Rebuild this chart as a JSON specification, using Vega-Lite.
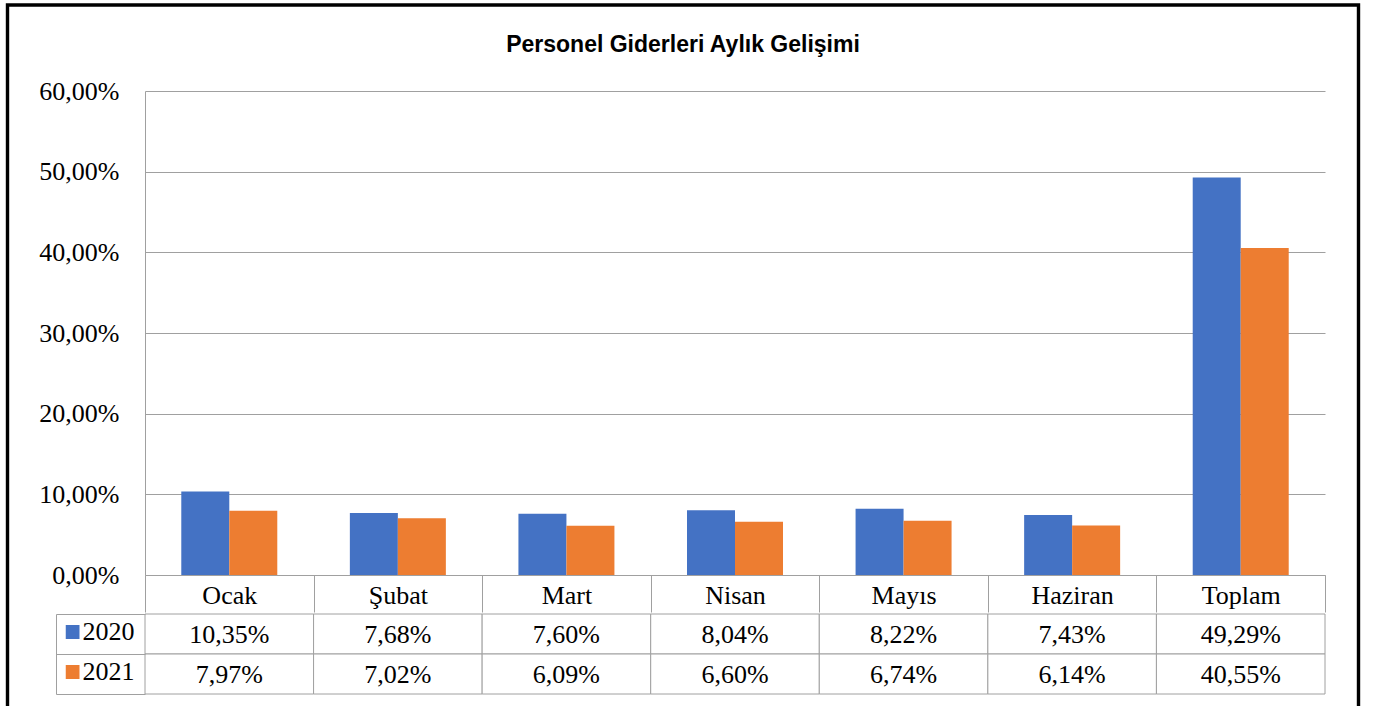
{
  "$schema": "https://vega.github.io/schema/vega-lite/v6.json",
  "background": "white",
  "padding": {"left": 5, "top": 3, "right": 5, "bottom": 5},
  "title": {"text": "Personel Giderleri Aylık Gelişimi", "font": "Liberation Sans", "fontSize": 23, "fontWeight": "bold", "color": "black", "offset": -54, "anchor": "middle"},
  "data": {"values": [
    {"ay": "Ocak", "yil": "2020", "oran": 0.1035},
    {"ay": "Şubat", "yil": "2020", "oran": 0.0768},
    {"ay": "Mart", "yil": "2020", "oran": 0.0760},
    {"ay": "Nisan", "yil": "2020", "oran": 0.0804},
    {"ay": "Mayıs", "yil": "2020", "oran": 0.0822},
    {"ay": "Haziran", "yil": "2020", "oran": 0.0743},
    {"ay": "Toplam", "yil": "2020", "oran": 0.4929},
    {"ay": "Ocak", "yil": "2021", "oran": 0.0797},
    {"ay": "Şubat", "yil": "2021", "oran": 0.0702},
    {"ay": "Mart", "yil": "2021", "oran": 0.0609},
    {"ay": "Nisan", "yil": "2021", "oran": 0.0660},
    {"ay": "Mayıs", "yil": "2021", "oran": 0.0674},
    {"ay": "Haziran", "yil": "2021", "oran": 0.0614},
    {"ay": "Toplam", "yil": "2021", "oran": 0.4055}
  ]},
  "spacing": 0,
  "vconcat": [
    {
      "width": 1180,
      "height": 484,
      "mark": {"type": "bar"},
      "encoding": {
        "x": {"field": "ay", "type": "nominal", "sort": ["Ocak", "Şubat", "Mart", "Nisan", "Mayıs", "Haziran", "Toplam"],
              "scale": {"paddingInner": 0, "paddingOuter": 0},
              "axis": {"title": null, "labelAngle": 0, "orient": "bottom", "domain": true, "domainColor": "#a0a0a0", "ticks": true, "tickBand": "extent", "tickSize": 37, "tickColor": "#a0a0a0", "grid": false,
                       "labelFont": "Liberation Serif", "labelFontSize": 26, "labelColor": "black", "labelPadding": -30}},
        "xOffset": {"field": "yil", "type": "nominal", "scale": {"paddingInner": 0, "paddingOuter": 0.756}},
        "y": {"field": "oran", "type": "quantitative", "scale": {"domain": [0, 0.6]},
              "axis": {"title": null, "values": [0, 0.1, 0.2, 0.3, 0.4, 0.5, 0.6], "format": ".2%", "ticks": false, "domain": true, "domainColor": "#a0a0a0", "grid": true, "gridColor": "#a0a0a0",
                       "labelFont": "Liberation Serif", "labelFontSize": 26, "labelColor": "black", "labelPadding": 26}},
        "color": {"field": "yil", "type": "nominal", "scale": {"domain": ["2020", "2021"], "range": ["#4472C4", "#ED7D31"]},
                  "legend": {"orient": "none", "legendX": -88.5, "legendY": 521, "title": null, "direction": "vertical", "symbolType": "square", "symbolSize": 196, "symbolStrokeWidth": 0, "symbolOffset": -6,
                             "labelFont": "Liberation Serif", "labelFontSize": 26, "labelColor": "black", "labelOffset": -3, "padding": 9, "rowPadding": 14, "clipHeight": 22}}
      }
    },
    {
      "width": 1180,
      "height": 80,
      "encoding": {
        "x": {"field": "ay", "type": "nominal", "sort": ["Ocak", "Şubat", "Mart", "Nisan", "Mayıs", "Haziran", "Toplam"], "scale": {"paddingInner": 0, "paddingOuter": 0}, "axis": null}
      },
      "layer": [
        {"mark": {"type": "rect", "fill": "white", "strokeWidth": 1},
         "encoding": {
           "y": {"field": "yil", "type": "nominal", "sort": ["2020", "2021"], "scale": {"paddingInner": 0, "paddingOuter": 0},
                 "axis": {"title": null, "orient": "left", "labels": false, "domain": false, "ticks": true, "tickBand": "extent", "tickSize": 89, "tickColor": "#a0a0a0", "grid": false}},
           "stroke": {"field": "oran", "type": "quantitative", "scale": {"range": ["#a0a0a0", "#a0a0a0"]},
                                 "legend": {"orient": "none", "legendX": -137.5, "legendY": -86, "title": null, "direction": "horizontal",
                                            "gradientLength": 1342.5, "gradientThickness": 695.5, "gradientOpacity": 0, "gradientStrokeColor": "#a0a0a0", "gradientStrokeWidth": 1,
                                            "labelOpacity": 0, "labelOffset": 0, "labelFontSize": 1, "padding": 4, "strokeColor": "black",
                                            "encode": {"legend": {"update": {"strokeWidth": {"value": 3.4}}}}}}}},
        {"mark": {"type": "text", "font": "Liberation Serif", "fontSize": 26, "color": "black", "baseline": "middle", "dy": 1},
         "encoding": {
           "y": {"field": "yil", "type": "nominal", "sort": ["2020", "2021"],
                 "axis": {"title": null, "orient": "left", "offset": 89, "labels": false, "ticks": false, "domain": true, "domainColor": "#a0a0a0", "grid": false}},
           "text": {"field": "oran", "type": "quantitative", "format": ".2%"}}}
      ],
      "resolve": {"axis": {"y": "independent"}}
    }
  ],
  "config": {
    "view": {"stroke": null},
    "locale": {"number": {"decimal": ",", "thousands": ".", "grouping": [3], "currency": ["", " TL"]}}
  }
}
